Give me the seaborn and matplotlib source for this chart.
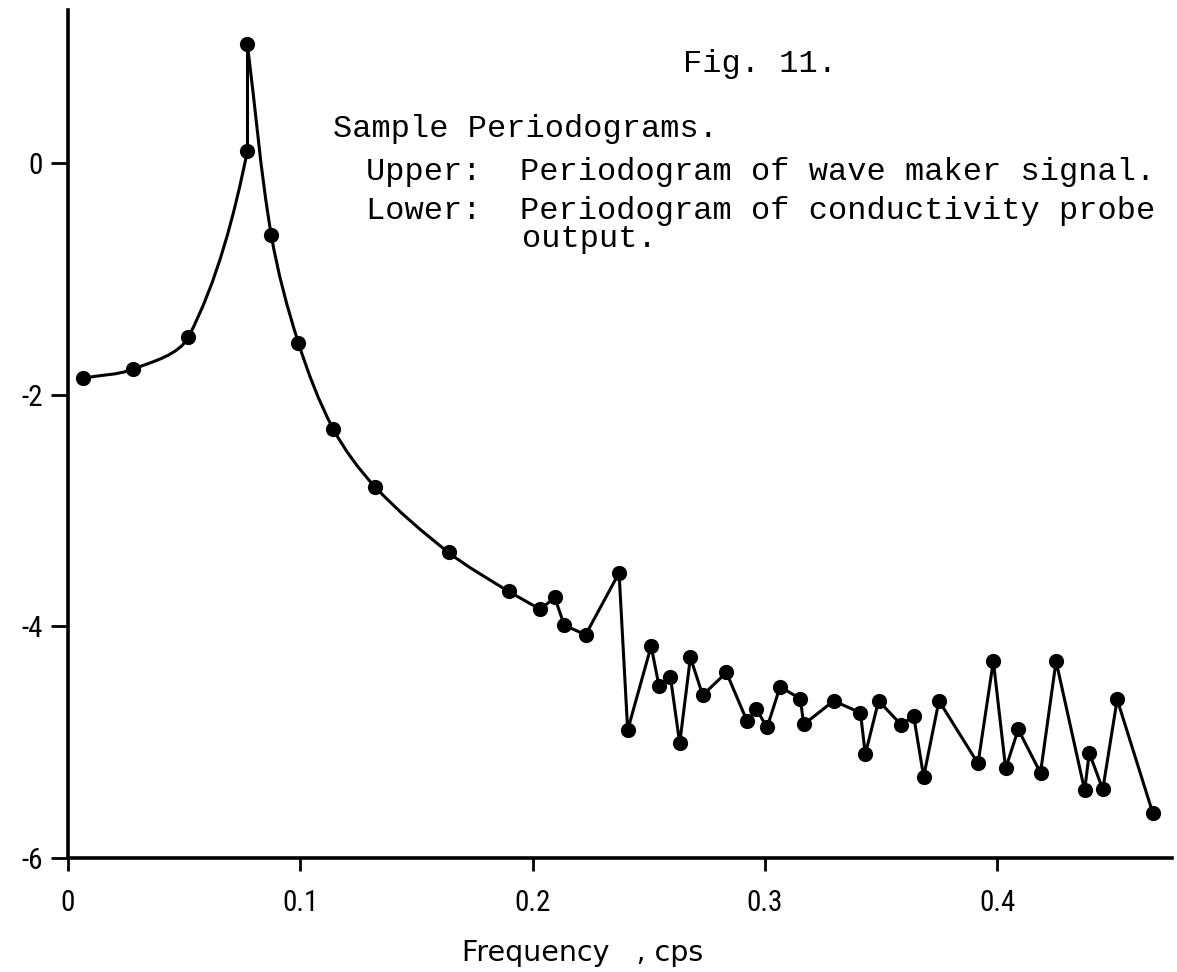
import numpy as np
import pandas as pd
import matplotlib
matplotlib.use("Agg")
import matplotlib.pyplot as plt
from matplotlib.path import Path
from matplotlib.patches import PathPatch
from matplotlib import font_manager
import seaborn as sns

# ---- data ----
freq = [0.0065, 0.0281, 0.0518, 0.0772, 0.0772, 0.0875, 0.0992, 0.1142, 0.1323,
        0.1638, 0.1897, 0.2033, 0.2095, 0.2136, 0.2228, 0.2372, 0.2409, 0.2510,
        0.2544, 0.2593, 0.2633, 0.2679, 0.2732, 0.2834, 0.2923, 0.2963, 0.3009,
        0.3065, 0.3152, 0.3167, 0.3296, 0.3411, 0.3432, 0.3489, 0.3587, 0.3640,
        0.3683, 0.3749, 0.3917, 0.3983, 0.4036, 0.4090, 0.4186, 0.4253, 0.4376,
        0.4396, 0.4454, 0.4516, 0.4669]
log_power = [-1.857, -1.779, -1.503, 0.104, 1.028, -0.622, -1.554, -2.297, -2.798,
             -3.362, -3.699, -3.854, -3.750, -3.990, -4.073, -3.538, -4.896, -4.171,
             -4.516, -4.436, -5.011, -4.269, -4.594, -4.398, -4.819, -4.715, -4.873,
             -4.522, -4.625, -4.847, -4.643, -4.747, -5.104, -4.643, -4.851, -4.773,
             -5.299, -4.643, -5.184, -4.301, -5.227, -4.890, -5.265, -4.301, -5.415,
             -5.092, -5.408, -4.631, -5.610]
# indices: smooth left branch 0..3, straight rise 3->4, smooth right branch 4..10,
# straight segments from 10 onwards
PEAK_LOW, PEAK, SMOOTH_END = 3, 4, 10

x_ticks = [0, 0.1, 0.2, 0.3, 0.4]
x_ticklabels = ["0", "0.1", "0.2", "0.3", "0.4"]
y_ticks = [0, -2, -4, -6]
y_ticklabels = ["0", "-2", "-4", "-6"]

x_label = "Frequency   , cps"
title_lines = [
    ("Fig. 11.", 683, 72),
    ("Sample Periodograms.", 333, 137),
    ("Upper:  Periodogram of wave maker signal.", 366, 180),
    ("Lower:  Periodogram of conductivity probe", 366, 219),
    ("output.", 522, 247),
]

df = pd.DataFrame({"freq": freq, "log_power": log_power})

sns.set_style("ticks")
available = {f.name for f in font_manager.fontManager.ttflist}
label_family = next((f for f in ["Liberation Sans Narrow", "Roboto Condensed",
                                  "Open Sans Condensed", "Liberation Sans"]
                     if f in available), "DejaVu Sans")
plt.rcParams["font.family"] = [label_family, "DejaVu Sans"]

W, H = 1177, 972
fig = plt.figure(figsize=(W / 100, H / 100), dpi=100)
ax = fig.add_axes([68 / W, 1 - 858 / H, 1104 / W, (858 - 10) / H])
ax.set_xlim(0, 0.4752)
ax.set_ylim(-6, 1.321)

LW = 2.2
ink = "black"


def smooth_branch(ax, xs, ys, lo, hi, nb_lo, nb_hi):
    """Chord-length Hermite (Catmull-Rom style) curve through points lo..hi,
    computed in display space so the curve is smooth on screen."""
    pts = ax.transData.transform(np.column_stack([xs, ys]))
    idx = list(range(nb_lo, nb_hi + 1))
    t = {nb_lo: 0.0}
    for a, b in zip(idx[:-1], idx[1:]):
        t[b] = t[a] + np.hypot(*(pts[b] - pts[a]))

    def tangent(i):
        a, b = max(i - 1, nb_lo), min(i + 1, nb_hi)
        return (pts[b] - pts[a]) / (t[b] - t[a])

    verts = [pts[lo]]
    codes = [Path.MOVETO]
    for i in range(lo, hi):
        dt = t[i + 1] - t[i]
        c1 = pts[i] + tangent(i) * dt / 3
        c2 = pts[i + 1] - tangent(i + 1) * dt / 3
        verts += [c1, c2, pts[i + 1]]
        codes += [Path.CURVE4] * 3
    verts = ax.transData.inverted().transform(np.array(verts))
    ax.add_patch(PathPatch(Path(verts, codes), fill=False, lw=LW, edgecolor=ink,
                           capstyle="round", joinstyle="round", zorder=2))


smooth_branch(ax, freq, log_power, 0, PEAK_LOW, 0, PEAK)
smooth_branch(ax, freq, log_power, PEAK, SMOOTH_END, PEAK, SMOOTH_END + 1)
sns.lineplot(data=df.iloc[PEAK_LOW:PEAK + 1], x="freq", y="log_power", sort=False,
             estimator=None, color=ink, lw=LW, ax=ax, zorder=2)
sns.lineplot(data=df.iloc[SMOOTH_END:], x="freq", y="log_power", sort=False,
             estimator=None, color=ink, lw=LW, ax=ax, zorder=2)
sns.scatterplot(data=df, x="freq", y="log_power", color=ink, s=120, edgecolor=ink,
                linewidth=0, ax=ax, zorder=3)

ax.set_xlim(0, 0.4752)
ax.set_ylim(-6, 1.321)
sns.despine(ax=ax)
for side in ("left", "bottom"):
    ax.spines[side].set_linewidth(2.6)
    ax.spines[side].set_color(ink)

ax.set_xticks(x_ticks)
ax.set_xticklabels(x_ticklabels)
ax.set_yticks(y_ticks)
ax.set_yticklabels(y_ticklabels)
ax.tick_params(axis="x", direction="out", length=9, width=2.0, pad=13,
               labelsize=21, colors=ink)
ax.tick_params(axis="y", direction="out", length=12, width=2.0, pad=6,
               labelsize=21, colors=ink)

ax.set_xlabel(x_label, fontsize=20.5, color=ink, family=["DejaVu Sans"])
ax.set_ylabel("")
ax.xaxis.set_label_coords(0.466, -0.095)
ax.grid(False)

for text, px, py in title_lines:
    fig.text(px / W, 1 - py / H, text, family="Liberation Mono", fontsize=23,
             color=ink, ha="left", va="baseline")

fig.savefig("out.png", dpi=100)
